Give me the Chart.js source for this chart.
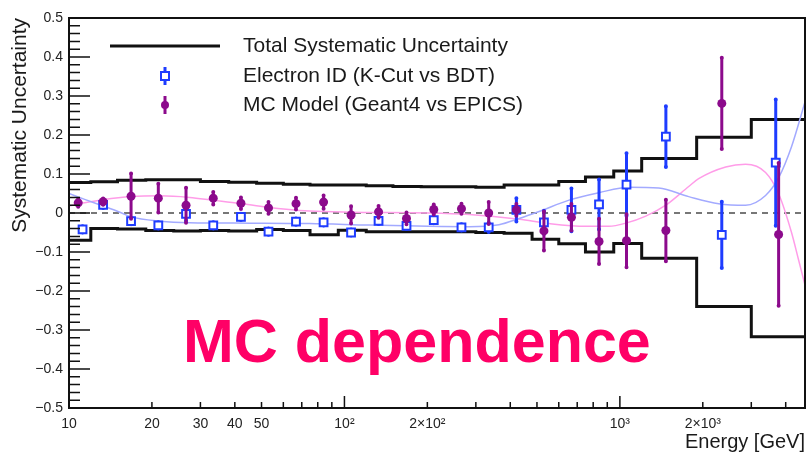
<!DOCTYPE html>
<html>
<head>
<meta charset="utf-8">
<script src="https://cdn.jsdelivr.net/npm/chart.js@4.4.1/dist/chart.umd.min.js"></script>
<style>
  html, body { margin: 0; padding: 0; background: #fff; }
  #wrap { width: 807px; height: 454px; }
</style>
</head>
<body>
<div id="wrap"><canvas id="sysChart" width="807" height="454"></canvas></div>
<script>
// total systematic band: bin edges [GeV] and upper / lower edge per bin
const binEdges = [10, 12, 15, 19, 24, 30, 38, 48, 60, 75, 95, 120, 150, 190, 240, 300, 380, 480, 600, 750, 950, 1200, 1900, 3000, 4700];
const sysUpper = [0.078, 0.080, 0.084, 0.085, 0.085, 0.081, 0.079, 0.076, 0.074, 0.072, 0.072, 0.070, 0.068, 0.067, 0.067, 0.066, 0.072, 0.072, 0.081, 0.092, 0.108, 0.140, 0.194, 0.240];
const sysLower = [-0.070, -0.040, -0.041, -0.045, -0.046, -0.045, -0.046, -0.042, -0.045, -0.056, -0.044, -0.048, -0.048, -0.048, -0.048, -0.050, -0.052, -0.067, -0.079, -0.100, -0.078, -0.116, -0.240, -0.317];

// Electron ID (K-Cut vs BDT)
const eidEnergy = [11.2, 13.3, 16.8, 21.1, 26.6, 33.4, 42.1, 53.0, 66.7, 84.0, 105.7, 133, 168, 211, 266, 334, 421, 530, 667, 840, 1057, 1469, 2344, 3680];
const eidValue = [-0.042, 0.021, -0.021, -0.032, -0.002, -0.032, -0.010, -0.048, -0.022, -0.024, -0.050, -0.020, -0.033, -0.018, -0.037, -0.037, 0.008, -0.024, 0.008, 0.022, 0.073, 0.196, -0.056, 0.129];
const eidError = [0.008, 0.008, 0.008, 0.008, 0.018, 0.008, 0.008, 0.008, 0.008, 0.008, 0.008, 0.008, 0.008, 0.008, 0.008, 0.012, 0.030, 0.030, 0.055, 0.064, 0.080, 0.078, 0.085, 0.162];

// MC Model (Geant4 vs EPICS)
const mcEnergy = [10.8, 13.3, 16.8, 21.1, 26.6, 33.4, 42.1, 53.0, 66.7, 84.0, 105.7, 133, 168, 211, 266, 334, 421, 530, 667, 840, 1057, 1469, 2344, 3770];
const mcValue = [0.026, 0.029, 0.043, 0.038, 0.020, 0.038, 0.025, 0.013, 0.024, 0.028, -0.005, 0.003, -0.014, 0.009, 0.011, 0.000, 0.008, -0.046, -0.011, -0.073, -0.071, -0.045, 0.281, -0.055];
const mcError = [0.010, 0.008, 0.058, 0.037, 0.045, 0.016, 0.015, 0.015, 0.015, 0.017, 0.022, 0.015, 0.015, 0.013, 0.013, 0.028, 0.015, 0.050, 0.034, 0.058, 0.068, 0.079, 0.117, 0.183];

// fit curves
const eidFitEnergy = [10, 11.4, 13.3, 15.3, 16.8, 21.4, 27.4, 45.3, 74.7, 123, 203, 284, 364, 431, 509, 654, 839, 1078, 1384, 1778, 2284, 2861, 3380, 3767, 4199, 4700];
const eidFitValue = [0.050, 0.035, 0.018, 0.002, -0.010, -0.021, -0.025, -0.026, -0.027, -0.031, -0.034, -0.035, -0.030, -0.014, 0.004, 0.033, 0.052, 0.066, 0.064, 0.042, 0.024, 0.020, 0.045, 0.090, 0.170, 0.285];
const mcFitEnergy = [10, 11.4, 13.3, 16.8, 21.4, 27.4, 33.3, 41.6, 52.2, 74.7, 104, 203, 284, 431, 553, 753, 912, 1051, 1242, 1468, 1778, 1932, 2422, 2861, 3380, 3767, 4199, 4453, 4700];
const mcFitValue = [0.018, 0.026, 0.034, 0.042, 0.044, 0.040, 0.033, 0.025, 0.015, 0.005, 0.002, 0.000, -0.004, -0.016, -0.027, -0.034, -0.034, -0.026, -0.008, 0.020, 0.068, 0.088, 0.118, 0.125, 0.104, 0.050, -0.050, -0.120, -0.185];

// x tick labels
const xLabelValues = [10, 20, 30, 40, 50, 100, 200, 1000, 2000];
const xLabelTexts = ['10', '20', '30', '40', '50', '10²', '2×10²', '10³', '2×10³'];

const ink = '#111';
const eidBlue = '#1e3cff';
const mcPurple = '#8c0a8c';
const fontFamily = '"Liberation Sans", Arial, Helvetica, sans-serif';

function bandPoints(vals) {
    return binEdges.map((e, i) => ({ x: e, y: vals[Math.min(i, vals.length - 1)] }));
}
function toPoints(xs, ys) {
    return xs.map((x, i) => ({ x: x, y: ys[i] }));
}

// vertical error bars, drawn just before each marker set
const errorBars = {
    id: 'errorBars',
    beforeDatasetDraw(chart, args) {
        const ds = chart.data.datasets[args.index];
        if (!ds.errors) return;
        const xs = chart.scales.x, ys = chart.scales.y, ctx = chart.ctx;
        ctx.save();
        ctx.strokeStyle = ds.barColor;
        ctx.fillStyle = ds.barColor;
        ctx.lineWidth = 3;
        ds.data.forEach((p, i) => {
            const px = xs.getPixelForValue(p.x);
            const top = ys.getPixelForValue(p.y + ds.errors[i]);
            const bot = ys.getPixelForValue(p.y - ds.errors[i]);
            ctx.beginPath();
            ctx.moveTo(px, top);
            ctx.lineTo(px, bot);
            ctx.stroke();
            ctx.beginPath();
            ctx.arc(px, top, 2, 0, Math.PI * 2);
            ctx.arc(px, bot, 2, 0, Math.PI * 2);
            ctx.fill();
        });
        ctx.restore();
    }
};

// ROOT style frame with inside tick marks
const frameTicks = {
    id: 'frameTicks',
    afterDatasetsDraw(chart) {
        const { ctx, chartArea: a } = chart;
        const xs = chart.scales.x, ys = chart.scales.y;
        ctx.save();
        ctx.strokeStyle = ink;
        ctx.lineWidth = 2;
        ctx.strokeRect(a.left, a.top, a.right - a.left, a.bottom - a.top);
        ctx.lineWidth = 1.5;
        ctx.beginPath();
        for (let i = -25; i <= 25; i++) {
            const py = ys.getPixelForValue(i * 0.02);
            const len = i % 5 === 0 ? 21 : 11;
            ctx.moveTo(a.left, py);
            ctx.lineTo(a.left + len, py);
        }
        for (let d = 10; d <= 1000; d *= 10) {
            for (let m = 1; m <= 9; m++) {
                const v = d * m;
                if (v > xs.max) break;
                const px = xs.getPixelForValue(v);
                ctx.moveTo(px, a.bottom);
                ctx.lineTo(px, a.bottom - (m === 1 ? 12 : 6));
            }
        }
        ctx.stroke();
        ctx.restore();
    }
};

// legend box and overlay text
const legendAndNote = {
    id: 'legendAndNote',
    afterDraw(chart) {
        const ctx = chart.ctx;
        const ds = chart.data.datasets;
        ctx.save();
        ctx.font = '21px ' + fontFamily;
        ctx.fillStyle = '#1a1a1a';
        ctx.textBaseline = 'middle';
        ctx.textAlign = 'left';

        ctx.strokeStyle = ink;
        ctx.lineWidth = 3;
        ctx.beginPath();
        ctx.moveTo(110, 46);
        ctx.lineTo(220, 46);
        ctx.stroke();
        ctx.fillText(ds[5].label, 243, 46);

        ctx.strokeStyle = eidBlue;
        ctx.beginPath();
        ctx.moveTo(165, 67);
        ctx.lineTo(165, 85);
        ctx.stroke();
        ctx.fillStyle = '#fff';
        ctx.lineWidth = 2;
        ctx.fillRect(161, 72, 8, 8);
        ctx.strokeRect(161, 72, 8, 8);
        ctx.fillStyle = '#1a1a1a';
        ctx.fillText(ds[1].label, 243, 76);

        ctx.strokeStyle = mcPurple;
        ctx.fillStyle = mcPurple;
        ctx.lineWidth = 3;
        ctx.beginPath();
        ctx.moveTo(165, 96);
        ctx.lineTo(165, 114);
        ctx.stroke();
        ctx.beginPath();
        ctx.arc(165, 105, 4, 0, Math.PI * 2);
        ctx.fill();
        ctx.fillStyle = '#1a1a1a';
        ctx.fillText(ds[0].label, 243, 105);

        ctx.font = 'bold 61px ' + fontFamily;
        ctx.fillStyle = '#ff0066';
        ctx.textBaseline = 'alphabetic';
        ctx.fillText('MC dependence', 183, 362);
        ctx.restore();
    }
};

new Chart(document.getElementById('sysChart'), {
    type: 'scatter',
    data: {
        datasets: [
            {
                label: 'MC Model (Geant4 vs EPICS)',
                data: toPoints(mcEnergy, mcValue),
                errors: mcError,
                barColor: mcPurple,
                pointStyle: 'circle',
                pointRadius: 4.5,
                backgroundColor: mcPurple,
                borderColor: mcPurple,
                borderWidth: 0
            },
            {
                label: 'Electron ID (K-Cut vs BDT)',
                data: toPoints(eidEnergy, eidValue),
                errors: eidError,
                barColor: eidBlue,
                pointStyle: 'rect',
                pointRadius: 5.5,
                backgroundColor: '#fff',
                borderColor: eidBlue,
                borderWidth: 2
            },
            {
                label: 'Electron ID fit',
                type: 'line',
                data: toPoints(eidFitEnergy, eidFitValue),
                borderColor: '#a3aaff',
                borderWidth: 1.5,
                pointRadius: 0,
                cubicInterpolationMode: 'monotone'
            },
            {
                label: 'MC Model fit',
                type: 'line',
                data: toPoints(mcFitEnergy, mcFitValue),
                borderColor: '#ff9ce8',
                borderWidth: 1.5,
                pointRadius: 0,
                cubicInterpolationMode: 'monotone'
            },
            {
                label: 'zero',
                type: 'line',
                data: [{ x: binEdges[0], y: 0 }, { x: binEdges[binEdges.length - 1], y: 0 }],
                borderColor: '#777',
                borderWidth: 2,
                borderDash: [6, 5],
                pointRadius: 0
            },
            {
                label: 'Total Systematic Uncertainty',
                type: 'line',
                data: bandPoints(sysUpper),
                borderColor: ink,
                borderWidth: 3,
                pointRadius: 0,
                stepped: true
            },
            {
                label: 'Total lower',
                type: 'line',
                data: bandPoints(sysLower),
                borderColor: ink,
                borderWidth: 3,
                pointRadius: 0,
                stepped: true
            }
        ]
    },
    options: {
        responsive: false,
        animation: false,
        devicePixelRatio: 1,
        events: [],
        layout: { autoPadding: false, padding: { top: 18, right: 2, left: 0, bottom: 0 } },
        plugins: {
            legend: { display: false },
            tooltip: { enabled: false }
        },
        scales: {
            x: {
                type: 'logarithmic',
                min: 10,
                max: 4700,
                grid: { display: false, drawTicks: false },
                border: { display: false },
                afterBuildTicks: function(scale) {
                    const t = [];
                    for (let d = 10; d <= 1000; d *= 10) {
                        for (let m = 1; m <= 9; m++) {
                            if (d * m <= 4700) t.push({ value: d * m });
                        }
                    }
                    scale.ticks = t;
                },
                afterFit: function(scale) {
                    scale.height = 46;
                    scale.paddingLeft = 0;
                    scale.paddingRight = 0;
                },
                ticks: {
                    autoSkip: false,
                    maxRotation: 0,
                    minRotation: 0,
                    padding: 8,
                    color: '#222',
                    font: { family: fontFamily, size: 14 },
                    callback: function(value) {
                        const i = xLabelValues.indexOf(value);
                        return i >= 0 ? xLabelTexts[i] : '';
                    }
                },
                title: {
                    display: true,
                    text: 'Energy [GeV]',
                    align: 'end',
                    color: '#1a1a1a',
                    font: { family: fontFamily, size: 20 },
                    padding: { top: 0, bottom: 0 }
                }
            },
            y: {
                min: -0.5,
                max: 0.5,
                grid: { display: false, drawTicks: false },
                border: { display: false },
                afterFit: function(scale) {
                    scale.width = 69;
                    scale.paddingTop = 0;
                    scale.paddingBottom = 0;
                },
                ticks: {
                    stepSize: 0.1,
                    padding: 6,
                    color: '#222',
                    font: { family: fontFamily, size: 14 },
                    callback: function(v) {
                        if (Math.abs(v) < 1e-9) return '0';
                        return v < 0 ? '\u2212' + (-v).toFixed(1) : v.toFixed(1);
                    }
                },
                title: {
                    display: true,
                    text: 'Systematic Uncertainty',
                    align: 'end',
                    color: '#1a1a1a',
                    font: { family: fontFamily, size: 21 },
                    padding: { top: 8, bottom: 0 }
                }
            }
        }
    },
    plugins: [errorBars, frameTicks, legendAndNote]
});
</script>
</body>
</html>
